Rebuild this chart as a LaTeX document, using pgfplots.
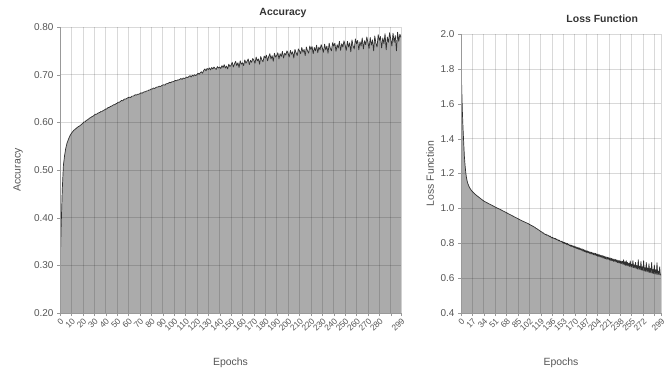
\documentclass[border=0pt]{standalone}
\usepackage{fontspec}
\setmainfont{Liberation Sans}
\usepackage{pgfplots}
\usepackage{pgfplotstable}
\pgfplotsset{compat=1.18}
\definecolor{fillgray}{HTML}{ABABAB}
\definecolor{linegray}{HTML}{303030}
\definecolor{txtgray}{HTML}{555555}

\pgfplotstableread[row sep=\\]{
acc\\
0.284\\ 0.380\\ 0.460\\ 0.510\\ 0.530\\ 0.545\\ 0.555\\ 0.562\\ 0.568\\ 0.573\\
0.577\\ 0.580\\ 0.583\\ 0.585\\ 0.587\\ 0.589\\ 0.591\\ 0.592\\ 0.594\\ 0.596\\
0.598\\ 0.601\\ 0.601\\ 0.604\\ 0.605\\ 0.607\\ 0.609\\ 0.610\\ 0.612\\ 0.613\\
0.615\\ 0.617\\ 0.617\\ 0.619\\ 0.620\\ 0.621\\ 0.623\\ 0.623\\ 0.625\\ 0.626\\
0.628\\ 0.628\\ 0.631\\ 0.631\\ 0.633\\ 0.634\\ 0.635\\ 0.637\\ 0.637\\ 0.639\\
0.640\\ 0.642\\ 0.642\\ 0.644\\ 0.646\\ 0.645\\ 0.648\\ 0.649\\ 0.649\\ 0.651\\
0.652\\ 0.653\\ 0.652\\ 0.655\\ 0.655\\ 0.656\\ 0.658\\ 0.657\\ 0.659\\ 0.659\\
0.660\\ 0.662\\ 0.661\\ 0.663\\ 0.664\\ 0.664\\ 0.666\\ 0.666\\ 0.668\\ 0.668\\
0.670\\ 0.670\\ 0.672\\ 0.671\\ 0.673\\ 0.674\\ 0.674\\ 0.676\\ 0.675\\ 0.677\\
0.678\\ 0.679\\ 0.678\\ 0.681\\ 0.681\\ 0.682\\ 0.684\\ 0.683\\ 0.685\\ 0.685\\
0.686\\ 0.688\\ 0.687\\ 0.689\\ 0.689\\ 0.690\\ 0.692\\ 0.690\\ 0.693\\ 0.692\\
0.693\\ 0.695\\ 0.694\\ 0.696\\ 0.698\\ 0.695\\ 0.699\\ 0.697\\ 0.700\\ 0.698\\
0.700\\ 0.703\\ 0.701\\ 0.704\\ 0.706\\ 0.703\\ 0.709\\ 0.712\\ 0.708\\ 0.713\\
0.711\\ 0.714\\ 0.710\\ 0.715\\ 0.712\\ 0.716\\ 0.713\\ 0.711\\ 0.717\\ 0.714\\
0.716\\ 0.713\\ 0.719\\ 0.715\\ 0.721\\ 0.714\\ 0.718\\ 0.712\\ 0.722\\ 0.717\\
0.720\\ 0.726\\ 0.716\\ 0.723\\ 0.728\\ 0.719\\ 0.725\\ 0.715\\ 0.729\\ 0.722\\
0.725\\ 0.719\\ 0.731\\ 0.724\\ 0.728\\ 0.733\\ 0.721\\ 0.730\\ 0.726\\ 0.734\\
0.730\\ 0.724\\ 0.737\\ 0.729\\ 0.733\\ 0.722\\ 0.738\\ 0.731\\ 0.727\\ 0.739\\
0.735\\ 0.741\\ 0.729\\ 0.738\\ 0.744\\ 0.733\\ 0.740\\ 0.728\\ 0.745\\ 0.737\\
0.740\\ 0.746\\ 0.733\\ 0.744\\ 0.738\\ 0.749\\ 0.735\\ 0.745\\ 0.741\\ 0.750\\
0.745\\ 0.737\\ 0.751\\ 0.743\\ 0.748\\ 0.735\\ 0.753\\ 0.746\\ 0.740\\ 0.754\\
0.750\\ 0.744\\ 0.757\\ 0.747\\ 0.753\\ 0.740\\ 0.758\\ 0.750\\ 0.745\\ 0.760\\
0.753\\ 0.759\\ 0.744\\ 0.757\\ 0.750\\ 0.762\\ 0.746\\ 0.758\\ 0.752\\ 0.763\\
0.756\\ 0.747\\ 0.764\\ 0.752\\ 0.760\\ 0.745\\ 0.766\\ 0.755\\ 0.750\\ 0.767\\
0.760\\ 0.766\\ 0.749\\ 0.763\\ 0.756\\ 0.770\\ 0.751\\ 0.765\\ 0.758\\ 0.771\\
0.762\\ 0.751\\ 0.770\\ 0.758\\ 0.767\\ 0.748\\ 0.773\\ 0.760\\ 0.754\\ 0.775\\
0.765\\ 0.772\\ 0.752\\ 0.769\\ 0.760\\ 0.777\\ 0.754\\ 0.771\\ 0.763\\ 0.779\\
0.768\\ 0.755\\ 0.778\\ 0.762\\ 0.773\\ 0.750\\ 0.781\\ 0.766\\ 0.758\\ 0.784\\
0.772\\ 0.780\\ 0.756\\ 0.777\\ 0.765\\ 0.786\\ 0.752\\ 0.779\\ 0.768\\ 0.788\\
0.775\\ 0.760\\ 0.787\\ 0.768\\ 0.782\\ 0.750\\ 0.789\\ 0.770\\ 0.785\\ 0.778\\
}\acctable

\pgfplotstableread[row sep=\\]{
loss\\
1.870\\ 1.700\\ 1.560\\ 1.460\\ 1.380\\ 1.300\\ 1.250\\ 1.210\\ 1.180\\ 1.160\\
1.145\\ 1.135\\ 1.125\\ 1.118\\ 1.112\\ 1.106\\ 1.101\\ 1.097\\ 1.093\\ 1.089\\
1.085\\ 1.082\\ 1.078\\ 1.075\\ 1.072\\ 1.069\\ 1.066\\ 1.063\\ 1.060\\ 1.057\\
1.054\\ 1.051\\ 1.048\\ 1.045\\ 1.043\\ 1.040\\ 1.038\\ 1.036\\ 1.034\\ 1.032\\
1.030\\ 1.028\\ 1.026\\ 1.024\\ 1.022\\ 1.020\\ 1.018\\ 1.016\\ 1.014\\ 1.012\\
1.010\\ 1.008\\ 1.006\\ 1.004\\ 1.002\\ 1.000\\ 0.998\\ 0.997\\ 0.995\\ 0.993\\
0.991\\ 0.989\\ 0.987\\ 0.985\\ 0.983\\ 0.981\\ 0.979\\ 0.977\\ 0.975\\ 0.973\\
0.971\\ 0.969\\ 0.967\\ 0.965\\ 0.963\\ 0.961\\ 0.959\\ 0.957\\ 0.955\\ 0.953\\
0.951\\ 0.949\\ 0.947\\ 0.945\\ 0.943\\ 0.941\\ 0.939\\ 0.937\\ 0.935\\ 0.933\\
0.931\\ 0.929\\ 0.927\\ 0.926\\ 0.924\\ 0.922\\ 0.920\\ 0.918\\ 0.917\\ 0.915\\
0.913\\ 0.912\\ 0.908\\ 0.907\\ 0.905\\ 0.902\\ 0.901\\ 0.898\\ 0.897\\ 0.894\\
0.892\\ 0.890\\ 0.886\\ 0.884\\ 0.882\\ 0.878\\ 0.877\\ 0.873\\ 0.872\\ 0.868\\
0.866\\ 0.864\\ 0.859\\ 0.860\\ 0.855\\ 0.853\\ 0.850\\ 0.852\\ 0.846\\ 0.848\\
0.845\\ 0.843\\ 0.838\\ 0.842\\ 0.836\\ 0.835\\ 0.830\\ 0.834\\ 0.828\\ 0.829\\
0.826\\ 0.828\\ 0.821\\ 0.824\\ 0.818\\ 0.820\\ 0.814\\ 0.818\\ 0.811\\ 0.812\\
0.808\\ 0.812\\ 0.803\\ 0.806\\ 0.799\\ 0.805\\ 0.797\\ 0.801\\ 0.793\\ 0.799\\
0.790\\ 0.795\\ 0.786\\ 0.791\\ 0.782\\ 0.789\\ 0.780\\ 0.786\\ 0.777\\ 0.785\\
0.775\\ 0.780\\ 0.770\\ 0.778\\ 0.768\\ 0.776\\ 0.765\\ 0.773\\ 0.762\\ 0.770\\
0.760\\ 0.768\\ 0.756\\ 0.764\\ 0.752\\ 0.762\\ 0.750\\ 0.758\\ 0.747\\ 0.756\\
0.745\\ 0.753\\ 0.742\\ 0.750\\ 0.739\\ 0.748\\ 0.737\\ 0.746\\ 0.734\\ 0.744\\
0.733\\ 0.742\\ 0.729\\ 0.739\\ 0.726\\ 0.737\\ 0.724\\ 0.734\\ 0.721\\ 0.732\\
0.720\\ 0.730\\ 0.716\\ 0.727\\ 0.713\\ 0.725\\ 0.711\\ 0.722\\ 0.708\\ 0.720\\
0.708\\ 0.718\\ 0.704\\ 0.716\\ 0.701\\ 0.713\\ 0.699\\ 0.711\\ 0.696\\ 0.709\\
0.696\\ 0.707\\ 0.692\\ 0.705\\ 0.689\\ 0.702\\ 0.687\\ 0.700\\ 0.684\\ 0.699\\
0.684\\ 0.697\\ 0.679\\ 0.705\\ 0.676\\ 0.694\\ 0.673\\ 0.700\\ 0.671\\ 0.690\\
0.670\\ 0.685\\ 0.667\\ 0.698\\ 0.664\\ 0.680\\ 0.662\\ 0.700\\ 0.660\\ 0.676\\
0.658\\ 0.690\\ 0.655\\ 0.672\\ 0.652\\ 0.705\\ 0.650\\ 0.668\\ 0.648\\ 0.695\\
0.646\\ 0.665\\ 0.643\\ 0.700\\ 0.641\\ 0.660\\ 0.639\\ 0.690\\ 0.637\\ 0.658\\
0.634\\ 0.682\\ 0.632\\ 0.655\\ 0.630\\ 0.690\\ 0.628\\ 0.650\\ 0.626\\ 0.675\\
0.624\\ 0.648\\ 0.622\\ 0.688\\ 0.621\\ 0.640\\ 0.619\\ 0.665\\ 0.618\\ 0.620\\
}\losstable

\pgfplotsset{
  mychart/.style={
    scale only axis,
    anchor=south west,
    axis lines*=left,
    axis line style={black!40},
    axis on top,
    grid=major,
    grid style={black, opacity=0.15, line width=0.6bp},
    tick align=outside,
    major tick length=3bp,
    tick style={black!40},
    /pgf/number format/assume math mode=true,
    tick label style={font=\fontsize{10}{11}\selectfont, text=txtgray},
    xticklabel style={font=\fontsize{8.5}{9}\selectfont, rotate=45, anchor=north east, inner sep=1bp},
    label style={font=\fontsize{10.5}{12}\selectfont, text=txtgray},
    title style={font=\bfseries\fontsize{10.5}{12}\selectfont, text=black!80, anchor=center},
    xmin=0, xmax=299,
    xlabel={Epochs},
    xlabel style={at={(axis description cs:0.5,0)}, anchor=center, yshift=-50bp},
    clip=true,
  }
}

\begin{document}
\begin{tikzpicture}[x=1bp,y=1bp]
\useasboundingbox (0,0) rectangle (665,372);

\begin{axis}[mychart,
  at={(60bp,59bp)}, width=341bp, height=286bp,
  ymin=0.2, ymax=0.8,
  ytick={0.2,0.3,0.4,0.5,0.6,0.7,0.8},
  yticklabel style={/pgf/number format/.cd, fixed, fixed zerofill, precision=2},
  xtick={0,10,20,30,40,50,60,70,80,90,100,110,120,130,140,150,160,170,180,190,200,210,220,230,240,250,260,270,280,290,299},
  xticklabels={0,10,20,30,40,50,60,70,80,90,100,110,120,130,140,150,160,170,180,190,200,210,220,230,240,250,260,270,280,,299},
  ylabel={Accuracy},
  ylabel style={at={(axis description cs:0,0.5)}, anchor=center, yshift=42bp},
  title={Accuracy},
  title style={at={(axis description cs:0.654,1)}, yshift=8bp},
]
\addplot[fill=fillgray, draw=none] table[x expr=\coordindex, y=acc] {\acctable} \closedcycle;
\addplot[linegray, line width=0.7bp, line join=round] table[x expr=\coordindex, y=acc] {\acctable};
\end{axis}

\begin{axis}[mychart,
  at={(461bp,59bp)}, width=200bp, height=279bp,
  ymin=0.4, ymax=2.0,
  ytick={0.4,0.6,0.8,1.0,1.2,1.4,1.6,1.8,2.0},
  yticklabel style={/pgf/number format/.cd, fixed, fixed zerofill, precision=1},
  xtick={0,17,34,51,68,85,102,119,136,153,170,187,204,221,238,255,272,289,299},
  xticklabels={0,17,34,51,68,85,102,119,136,153,170,187,204,221,238,255,272,,299},
  ylabel={Loss Function},
  ylabel style={at={(axis description cs:0,0.5)}, anchor=center, yshift=31bp},
  title={Loss Function},
  title style={at={(axis description cs:0.706,1)}, yshift=9bp},
]
\addplot[fill=fillgray, draw=none] table[x expr=\coordindex, y=loss] {\losstable} \closedcycle;
\addplot[linegray, line width=0.7bp, line join=round] table[x expr=\coordindex, y=loss] {\losstable};
\end{axis}
\end{tikzpicture}
\end{document}
